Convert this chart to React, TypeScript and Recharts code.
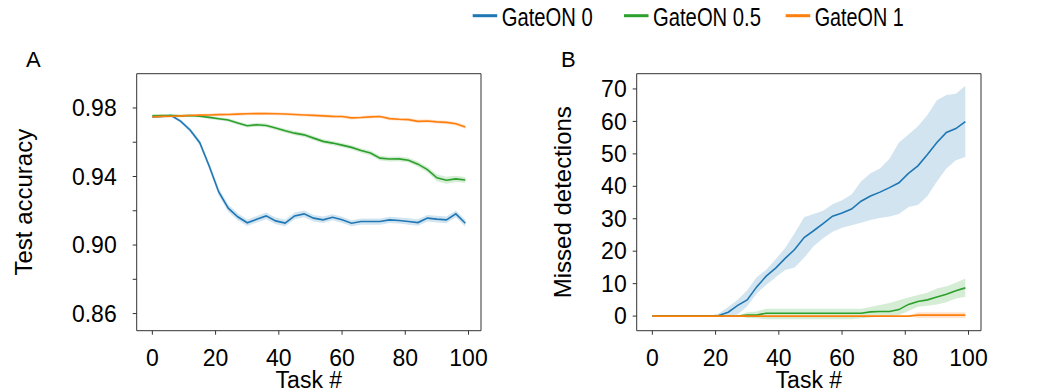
import React from "react";
import { ComposedChart, Line, Area, XAxis, YAxis, ReferenceArea, Label } from "recharts";

// task index of every sample (every 3rd task)
const tasks = [0, 3, 6, 9, 12, 15, 18, 21, 24, 27, 30, 33, 36, 39, 42, 45, 48, 51, 54, 57, 60, 63, 66, 69, 72, 75, 78, 81, 84, 87, 90, 93, 96, 99];

// Panel A: test accuracy (mean) and half-width of the shaded band
const accGate0 = [0.9747, 0.9751, 0.9756, 0.9722, 0.967, 0.9597, 0.946, 0.931, 0.9215, 0.9165, 0.913, 0.915, 0.917, 0.9141, 0.9128, 0.917, 0.9182, 0.9157, 0.9147, 0.9162, 0.9147, 0.9127, 0.9137, 0.9137, 0.9137, 0.9147, 0.9143, 0.9137, 0.9131, 0.9157, 0.9151, 0.9147, 0.9182, 0.9127];
const accGate05 = [0.9755, 0.9756, 0.9756, 0.9754, 0.9756, 0.9752, 0.9745, 0.9737, 0.973, 0.9712, 0.9696, 0.9702, 0.9698, 0.9683, 0.9667, 0.9653, 0.9643, 0.9624, 0.9605, 0.9595, 0.9583, 0.957, 0.9552, 0.9537, 0.9507, 0.9502, 0.9503, 0.9495, 0.9472, 0.944, 0.9392, 0.9378, 0.9386, 0.938];
const accGate1 = [0.9748, 0.9751, 0.9752, 0.9754, 0.9756, 0.9758, 0.9759, 0.9761, 0.9762, 0.9764, 0.9766, 0.9767, 0.9768, 0.9766, 0.9765, 0.9762, 0.9759, 0.9757, 0.9754, 0.9751, 0.975, 0.9742, 0.9744, 0.9748, 0.975, 0.9738, 0.9734, 0.9732, 0.9722, 0.9724, 0.9719, 0.9716, 0.9708, 0.9689];
const accErr0 = [0.0006, 0.0007, 0.0008, 0.001, 0.0013, 0.0016, 0.0019, 0.0021, 0.0021, 0.002, 0.0019, 0.0019, 0.002, 0.0019, 0.0019, 0.002, 0.002, 0.0019, 0.0019, 0.0018, 0.0018, 0.0018, 0.0018, 0.0018, 0.0018, 0.0018, 0.0018, 0.0019, 0.0019, 0.0019, 0.002, 0.002, 0.002, 0.0021];
const accErr05 = [0.0008, 0.0008, 0.0008, 0.0008, 0.0008, 0.0008, 0.0009, 0.0009, 0.001, 0.001, 0.001, 0.0011, 0.0011, 0.0011, 0.0012, 0.0012, 0.0012, 0.0012, 0.0012, 0.0012, 0.0012, 0.0013, 0.0013, 0.0014, 0.0014, 0.0014, 0.0014, 0.0014, 0.0015, 0.0017, 0.002, 0.002, 0.0018, 0.0016];
const accErr1 = [0.0006, 0.0006, 0.0007, 0.0007, 0.0008, 0.0008, 0.0008, 0.0009, 0.0009, 0.0009, 0.0009, 0.0009, 0.0009, 0.0009, 0.0009, 0.0009, 0.0009, 0.0009, 0.0009, 0.0009, 0.0009, 0.0009, 0.0009, 0.0009, 0.0009, 0.0009, 0.0009, 0.0009, 0.001, 0.001, 0.001, 0.001, 0.001, 0.001];

// Panel B: missed detections (mean, lower and upper edge of band)
const missGate0 = [0, 0, 0, 0, 0, 0, 0, 0.2, 1.2, 3.3, 5.0, 9.0, 12.3, 14.8, 17.8, 20.5, 24.2, 26.3, 28.5, 30.8, 31.8, 33.0, 35.4, 37.0, 38.2, 39.6, 41.1, 44.0, 46.3, 49.8, 53.5, 56.6, 57.8, 59.9];
const missGate0Lo = [0, 0, 0, 0, 0, 0, 0, 0, 0, 0.5, 3.0, 7.0, 9.6, 12.0, 14.2, 15.0, 18.0, 21.5, 24.0, 26.0, 27.2, 28.0, 28.8, 29.6, 30.2, 30.7, 31.5, 33.6, 34.2, 37.0, 41.5, 45.5, 48.0, 49.0];
const missGate0Hi = [0, 0, 0, 0, 0, 0, 0, 0.8, 2.8, 5.0, 8.0, 12.0, 14.3, 17.5, 21.0, 25.5, 30.5, 31.5, 32.5, 34.5, 35.7, 37.5, 41.5, 44.0, 45.5, 48.5, 53.5, 56.0, 58.5, 62.0, 66.5, 68.1, 68.5, 71.0];
const missGate05 = [0, 0, 0, 0, 0, 0, 0, 0, 0, 0, 0.3, 0.3, 0.9, 0.9, 0.9, 0.9, 0.9, 0.9, 0.9, 0.9, 0.9, 0.9, 0.9, 1.3, 1.4, 1.4, 2.0, 3.6, 4.5, 5.0, 5.9, 6.7, 7.8, 8.7];
const missGate05Lo = [0, 0, 0, 0, 0, 0, 0, 0, 0, 0, -0.6, -0.7, -1.0, -1.0, -1.0, -1.0, -1.0, -1.0, -1.0, -1.0, -1.0, -1.0, -0.7, -0.4, -0.2, 0.0, 0.3, 1.6, 2.9, 3.2, 3.6, 4.3, 5.4, 6.0];
const missGate05Hi = [0, 0, 0, 0, 0, 0, 0, 0, 0, 0, 1.2, 1.4, 2.3, 2.3, 2.3, 2.3, 2.3, 2.3, 2.3, 2.3, 2.3, 2.3, 2.3, 2.8, 3.4, 4.0, 4.9, 5.7, 6.5, 7.2, 8.5, 9.2, 10.3, 11.6];
const missGate1 = [0, 0, 0, 0, 0, 0, 0, 0, 0, 0, 0, 0, 0, 0, 0, 0, 0, 0, 0, 0, 0, 0, 0, 0, 0, 0, 0, 0, 0.3, 0.3, 0.3, 0.3, 0.3, 0.3];
const missGate1Lo = [0, 0, 0, 0, 0, 0, 0, 0, 0, 0, 0, 0, 0, 0, 0, 0, 0, 0, 0, 0, 0, 0, 0, 0, 0, 0, 0, 0, -0.6, -0.6, -0.6, -0.6, -0.6, -0.6];
const missGate1Hi = [0, 0, 0, 0, 0, 0, 0, 0, 0, 0, 0, 0, 0, 0, 0, 0, 0, 0, 0, 0, 0, 0, 0, 0, 0, 0, 0, 0, 1.2, 1.2, 1.2, 1.2, 1.2, 1.2];

const xTicks = [0, 20, 40, 60, 80, 100];
const accTicks = [0.86, 0.88, 0.9, 0.92, 0.94, 0.96, 0.98];
const accLabelled = ["0.86", "0.90", "0.94", "0.98"];
const missTicks = [0, 10, 20, 30, 40, 50, 60, 70];

const BLUE = "#1f77b4";
const GREEN = "#2ca02c";
const ORANGE = "#ff7f0e";

const legendItems = [
  { name: "GateON 0", color: BLUE },
  { name: "GateON 0.5", color: GREEN },
  { name: "GateON 1", color: ORANGE },
];

const accData = tasks.map((t, i) => ({
  task: t,
  g0: accGate0[i],
  g05: accGate05[i],
  g1: accGate1[i],
  b0: [accGate0[i] - accErr0[i], accGate0[i] + accErr0[i]],
  b05: [accGate05[i] - accErr05[i], accGate05[i] + accErr05[i]],
  b1: [accGate1[i] - accErr1[i], accGate1[i] + accErr1[i]],
}));

const missData = tasks.map((t, i) => ({
  task: t,
  g0: missGate0[i],
  g05: missGate05[i],
  g1: missGate1[i],
  b0: [missGate0Lo[i], missGate0Hi[i]],
  b05: [missGate05Lo[i], missGate05Hi[i]],
  b1: [missGate1Lo[i], missGate1Hi[i]],
}));

const tickStyle = { fontSize: 23, fill: "#000" };
const X_DOMAIN: [number, number] = [-4.95, 103.95];

function seriesFor() {
  const s = [
    { key: "0", color: BLUE },
    { key: "05", color: GREEN },
    { key: "1", color: ORANGE },
  ];
  return s.flatMap((d) => [
    <Area
      key={"b" + d.key}
      dataKey={"b" + d.key}
      stroke="none"
      fill={d.color}
      fillOpacity={0.2}
      dot={false}
      activeDot={false}
      isAnimationActive={false}
    />,
    <Line
      key={"g" + d.key}
      dataKey={"g" + d.key}
      stroke={d.color}
      strokeWidth={1.6}
      dot={false}
      activeDot={false}
      isAnimationActive={false}
    />,
  ]);
}

function PanelA() {
  return (
    <ComposedChart width={519} height={390} data={accData} margin={{ top: 73.7, right: 38, bottom: 0, left: 0 }}>
      <XAxis
        dataKey="task"
        type="number"
        domain={X_DOMAIN}
        ticks={xTicks}
        height={59.3}
        axisLine={false}
        tickSize={4}
        tickMargin={15}
        tick={tickStyle}
        tickLine={{ stroke: "#333" }}
        allowDataOverflow
      >
        <Label value="Task #" position="insideBottom" offset={2.5} style={{ fontSize: 23, fill: "#000" }} />
      </XAxis>
      <YAxis
        type="number"
        domain={[0.85, 1.0]}
        ticks={accTicks}
        width={136.7}
        axisLine={false}
        tickSize={4}
        tickMargin={16}
        tick={tickStyle}
        tickLine={{ stroke: "#333" }}
        tickFormatter={(v: number) => (accLabelled.includes(v.toFixed(2)) ? v.toFixed(2) : "")}
        allowDataOverflow
      >
        <Label
          value="Test accuracy"
          angle={-90}
          position="insideLeft"
          offset={23.6}
          style={{ fontSize: 24, fill: "#000", textAnchor: "middle" }}
        />
      </YAxis>
      {seriesFor()}
      <ReferenceArea x1={X_DOMAIN[0]} x2={X_DOMAIN[1]} y1={0.85} y2={1.0} fill="none" stroke="#333" strokeWidth={1} ifOverflow="visible" />
    </ComposedChart>
  );
}

function PanelB() {
  return (
    <ComposedChart width={519} height={390} data={missData} margin={{ top: 73.7, right: 57, bottom: 0, left: 0 }}>
      <XAxis
        dataKey="task"
        type="number"
        domain={X_DOMAIN}
        ticks={xTicks}
        height={59.3}
        axisLine={false}
        tickSize={4}
        tickMargin={15}
        tick={tickStyle}
        tickLine={{ stroke: "#333" }}
        allowDataOverflow
      >
        <Label value="Task #" position="insideBottom" offset={2.5} style={{ fontSize: 23, fill: "#000" }} />
      </XAxis>
      <YAxis
        type="number"
        domain={[-4.5, 74.7]}
        ticks={missTicks}
        width={117.7}
        axisLine={false}
        tickSize={4}
        tickMargin={6}
        tick={tickStyle}
        tickLine={{ stroke: "#333" }}
        allowDataOverflow
      >
        <Label
          value="Missed detections"
          angle={-90}
          position="insideLeft"
          offset={43.5}
          style={{ fontSize: 24, fill: "#000", textAnchor: "middle" }}
        />
      </YAxis>
      {seriesFor()}
      <ReferenceArea x1={X_DOMAIN[0]} x2={X_DOMAIN[1]} y1={-4.5} y2={74.7} fill="none" stroke="#333" strokeWidth={1} ifOverflow="visible" />
    </ComposedChart>
  );
}

export default function App() {
  const legendX = [472.7, 624, 785.7];
  const legendW = [91, 108, 89];
  return (
    <div
      style={{
        position: "absolute",
        left: 0,
        top: 0,
        width: 1038,
        height: 390,
        background: "#fff",
        fontFamily: "'Liberation Sans', Arial, Helvetica, sans-serif",
        overflow: "hidden",
      }}
    >
      <div style={{ position: "absolute", left: 0, top: 0 }}>
        <PanelA />
      </div>
      <div style={{ position: "absolute", left: 519, top: 0 }}>
        <PanelB />
      </div>
      {/* legend and panel letters */}
      <svg width={1038} height={390} style={{ position: "absolute", left: 0, top: 0, pointerEvents: "none" }}>
        <text x={26} y={67} fontSize={22} fill="#000">A</text>
        <text x={561} y={67} fontSize={22} fill="#000">B</text>
        {legendItems.map((it, i) => (
          <g key={it.name}>
            <line x1={legendX[i]} x2={legendX[i] + 24.5} y1={15.7} y2={15.7} stroke={it.color} strokeWidth={3} />
            <text
              x={legendX[i] + 29}
              y={26}
              fontSize={26}
              fill="#000"
              textLength={legendW[i]}
              lengthAdjust="spacingAndGlyphs"
            >
              {it.name}
            </text>
          </g>
        ))}
      </svg>
    </div>
  );
}
